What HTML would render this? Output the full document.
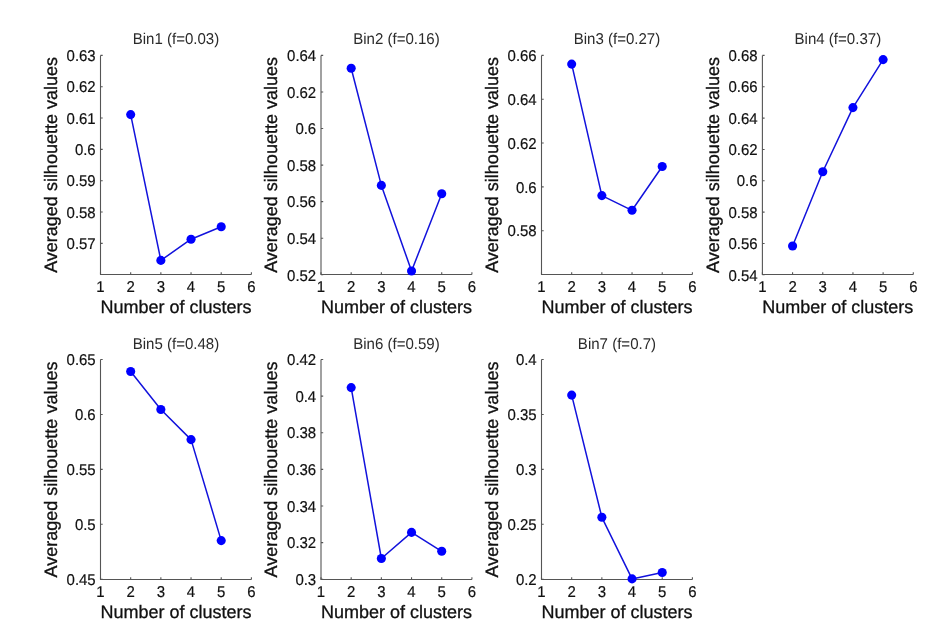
<!DOCTYPE html><html><head><meta charset="utf-8"><style>html,body{margin:0;padding:0;background:#fff;}svg{display:block;will-change:transform;}text{font-family:"Liberation Sans",Arial,sans-serif;text-rendering:geometricPrecision;}.tk{stroke:#111;stroke-width:0.2px;}.lb{stroke:#111;stroke-width:0.3px;}</style></head><body>
<svg width="948" height="642" viewBox="0 0 948 642">
<rect width="948" height="642" fill="#fff"/>
<g><path d="M100.5 55.4V274.5H251.4" fill="none" stroke="#555" stroke-width="1.1"/><path d="M100.5 274.5v-2.2M130.68 274.5v-2.2M160.86 274.5v-2.2M191.04 274.5v-2.2M221.22 274.5v-2.2M251.4 274.5v-2.2M100.5 55.4h2.2M100.5 86.73h2.2M100.5 118.06h2.2M100.5 149.39h2.2M100.5 180.72h2.2M100.5 212.05h2.2M100.5 243.38h2.2" fill="none" stroke="#555" stroke-width="1.1"/><text transform="translate(100.5 292.2) scale(0.96 1)" font-size="15.6" text-anchor="middle" fill="#111" class="tk">1</text><text transform="translate(130.68 292.2) scale(0.96 1)" font-size="15.6" text-anchor="middle" fill="#111" class="tk">2</text><text transform="translate(160.86 292.2) scale(0.96 1)" font-size="15.6" text-anchor="middle" fill="#111" class="tk">3</text><text transform="translate(191.04 292.2) scale(0.96 1)" font-size="15.6" text-anchor="middle" fill="#111" class="tk">4</text><text transform="translate(221.22 292.2) scale(0.96 1)" font-size="15.6" text-anchor="middle" fill="#111" class="tk">5</text><text transform="translate(251.4 292.2) scale(0.96 1)" font-size="15.6" text-anchor="middle" fill="#111" class="tk">6</text><text transform="translate(95.7 61.1) scale(0.96 1)" font-size="15.6" text-anchor="end" fill="#111" class="tk">0.63</text><text transform="translate(95.7 92.43) scale(0.96 1)" font-size="15.6" text-anchor="end" fill="#111" class="tk">0.62</text><text transform="translate(95.7 123.76) scale(0.96 1)" font-size="15.6" text-anchor="end" fill="#111" class="tk">0.61</text><text transform="translate(95.7 155.09) scale(0.96 1)" font-size="15.6" text-anchor="end" fill="#111" class="tk">0.6</text><text transform="translate(95.7 186.42) scale(0.96 1)" font-size="15.6" text-anchor="end" fill="#111" class="tk">0.59</text><text transform="translate(95.7 217.75) scale(0.96 1)" font-size="15.6" text-anchor="end" fill="#111" class="tk">0.58</text><text transform="translate(95.7 249.08) scale(0.96 1)" font-size="15.6" text-anchor="end" fill="#111" class="tk">0.57</text><text transform="translate(175.95 44.3) scale(0.965 1)" font-size="15.6" text-anchor="middle" fill="#2b2b2b" class="tt">Bin1 (f=0.03)</text><text x="175.95" y="312.8" font-size="18" text-anchor="middle" fill="#111" class="lb">Number of clusters</text><text x="56.7" y="164.95" font-size="18" text-anchor="middle" fill="#111" class="lb" transform="rotate(-90 56.7 164.95)">Averaged silhouette values</text><path d="M130.68 114.6 L160.86 260.4 L191.04 239.2 L221.22 226.8" fill="none" stroke="#1212dc" stroke-width="1.5" stroke-linejoin="round"/><circle cx="130.68" cy="114.6" r="4.55" fill="#0000ff"/><circle cx="160.86" cy="260.4" r="4.55" fill="#0000ff"/><circle cx="191.04" cy="239.2" r="4.55" fill="#0000ff"/><circle cx="221.22" cy="226.8" r="4.55" fill="#0000ff"/></g>
<g><path d="M321 55.4V274.5H471.9" fill="none" stroke="#555" stroke-width="1.1"/><path d="M321 274.5v-2.2M351.18 274.5v-2.2M381.36 274.5v-2.2M411.54 274.5v-2.2M441.72 274.5v-2.2M471.9 274.5v-2.2M321 55.4h2.2M321 91.97h2.2M321 128.53h2.2M321 165.1h2.2M321 201.67h2.2M321 238.23h2.2M321 274.8h2.2" fill="none" stroke="#555" stroke-width="1.1"/><text transform="translate(321 292.2) scale(0.96 1)" font-size="15.6" text-anchor="middle" fill="#111" class="tk">1</text><text transform="translate(351.18 292.2) scale(0.96 1)" font-size="15.6" text-anchor="middle" fill="#111" class="tk">2</text><text transform="translate(381.36 292.2) scale(0.96 1)" font-size="15.6" text-anchor="middle" fill="#111" class="tk">3</text><text transform="translate(411.54 292.2) scale(0.96 1)" font-size="15.6" text-anchor="middle" fill="#111" class="tk">4</text><text transform="translate(441.72 292.2) scale(0.96 1)" font-size="15.6" text-anchor="middle" fill="#111" class="tk">5</text><text transform="translate(471.9 292.2) scale(0.96 1)" font-size="15.6" text-anchor="middle" fill="#111" class="tk">6</text><text transform="translate(316.2 61.1) scale(0.96 1)" font-size="15.6" text-anchor="end" fill="#111" class="tk">0.64</text><text transform="translate(316.2 97.67) scale(0.96 1)" font-size="15.6" text-anchor="end" fill="#111" class="tk">0.62</text><text transform="translate(316.2 134.23) scale(0.96 1)" font-size="15.6" text-anchor="end" fill="#111" class="tk">0.6</text><text transform="translate(316.2 170.8) scale(0.96 1)" font-size="15.6" text-anchor="end" fill="#111" class="tk">0.58</text><text transform="translate(316.2 207.37) scale(0.96 1)" font-size="15.6" text-anchor="end" fill="#111" class="tk">0.56</text><text transform="translate(316.2 243.93) scale(0.96 1)" font-size="15.6" text-anchor="end" fill="#111" class="tk">0.54</text><text transform="translate(316.2 280.5) scale(0.96 1)" font-size="15.6" text-anchor="end" fill="#111" class="tk">0.52</text><text transform="translate(396.45 44.3) scale(0.965 1)" font-size="15.6" text-anchor="middle" fill="#2b2b2b" class="tt">Bin2 (f=0.16)</text><text x="396.45" y="312.8" font-size="18" text-anchor="middle" fill="#111" class="lb">Number of clusters</text><text x="277.2" y="164.95" font-size="18" text-anchor="middle" fill="#111" class="lb" transform="rotate(-90 277.2 164.95)">Averaged silhouette values</text><path d="M351.18 68.3 L381.36 185.4 L411.54 271 L441.72 193.8" fill="none" stroke="#1212dc" stroke-width="1.5" stroke-linejoin="round"/><circle cx="351.18" cy="68.3" r="4.55" fill="#0000ff"/><circle cx="381.36" cy="185.4" r="4.55" fill="#0000ff"/><circle cx="411.54" cy="271" r="4.55" fill="#0000ff"/><circle cx="441.72" cy="193.8" r="4.55" fill="#0000ff"/></g>
<g><path d="M541.5 55.4V274.5H692.4" fill="none" stroke="#555" stroke-width="1.1"/><path d="M541.5 274.5v-2.2M571.68 274.5v-2.2M601.86 274.5v-2.2M632.04 274.5v-2.2M662.22 274.5v-2.2M692.4 274.5v-2.2M541.5 55.4h2.2M541.5 99.23h2.2M541.5 143.06h2.2M541.5 186.89h2.2M541.5 230.72h2.2" fill="none" stroke="#555" stroke-width="1.1"/><text transform="translate(541.5 292.2) scale(0.96 1)" font-size="15.6" text-anchor="middle" fill="#111" class="tk">1</text><text transform="translate(571.68 292.2) scale(0.96 1)" font-size="15.6" text-anchor="middle" fill="#111" class="tk">2</text><text transform="translate(601.86 292.2) scale(0.96 1)" font-size="15.6" text-anchor="middle" fill="#111" class="tk">3</text><text transform="translate(632.04 292.2) scale(0.96 1)" font-size="15.6" text-anchor="middle" fill="#111" class="tk">4</text><text transform="translate(662.22 292.2) scale(0.96 1)" font-size="15.6" text-anchor="middle" fill="#111" class="tk">5</text><text transform="translate(692.4 292.2) scale(0.96 1)" font-size="15.6" text-anchor="middle" fill="#111" class="tk">6</text><text transform="translate(536.7 61.1) scale(0.96 1)" font-size="15.6" text-anchor="end" fill="#111" class="tk">0.66</text><text transform="translate(536.7 104.93) scale(0.96 1)" font-size="15.6" text-anchor="end" fill="#111" class="tk">0.64</text><text transform="translate(536.7 148.76) scale(0.96 1)" font-size="15.6" text-anchor="end" fill="#111" class="tk">0.62</text><text transform="translate(536.7 192.59) scale(0.96 1)" font-size="15.6" text-anchor="end" fill="#111" class="tk">0.6</text><text transform="translate(536.7 236.42) scale(0.96 1)" font-size="15.6" text-anchor="end" fill="#111" class="tk">0.58</text><text transform="translate(616.95 44.3) scale(0.965 1)" font-size="15.6" text-anchor="middle" fill="#2b2b2b" class="tt">Bin3 (f=0.27)</text><text x="616.95" y="312.8" font-size="18" text-anchor="middle" fill="#111" class="lb">Number of clusters</text><text x="497.7" y="164.95" font-size="18" text-anchor="middle" fill="#111" class="lb" transform="rotate(-90 497.7 164.95)">Averaged silhouette values</text><path d="M571.68 64.1 L601.86 195.6 L632.04 210.3 L662.22 166.5" fill="none" stroke="#1212dc" stroke-width="1.5" stroke-linejoin="round"/><circle cx="571.68" cy="64.1" r="4.55" fill="#0000ff"/><circle cx="601.86" cy="195.6" r="4.55" fill="#0000ff"/><circle cx="632.04" cy="210.3" r="4.55" fill="#0000ff"/><circle cx="662.22" cy="166.5" r="4.55" fill="#0000ff"/></g>
<g><path d="M762.4 55.4V274.5H913.3" fill="none" stroke="#555" stroke-width="1.1"/><path d="M762.4 274.5v-2.2M792.58 274.5v-2.2M822.76 274.5v-2.2M852.94 274.5v-2.2M883.12 274.5v-2.2M913.3 274.5v-2.2M762.4 55.4h2.2M762.4 86.74h2.2M762.4 118.09h2.2M762.4 149.43h2.2M762.4 180.77h2.2M762.4 212.11h2.2M762.4 243.46h2.2M762.4 274.8h2.2" fill="none" stroke="#555" stroke-width="1.1"/><text transform="translate(762.4 292.2) scale(0.96 1)" font-size="15.6" text-anchor="middle" fill="#111" class="tk">1</text><text transform="translate(792.58 292.2) scale(0.96 1)" font-size="15.6" text-anchor="middle" fill="#111" class="tk">2</text><text transform="translate(822.76 292.2) scale(0.96 1)" font-size="15.6" text-anchor="middle" fill="#111" class="tk">3</text><text transform="translate(852.94 292.2) scale(0.96 1)" font-size="15.6" text-anchor="middle" fill="#111" class="tk">4</text><text transform="translate(883.12 292.2) scale(0.96 1)" font-size="15.6" text-anchor="middle" fill="#111" class="tk">5</text><text transform="translate(913.3 292.2) scale(0.96 1)" font-size="15.6" text-anchor="middle" fill="#111" class="tk">6</text><text transform="translate(757.6 61.1) scale(0.96 1)" font-size="15.6" text-anchor="end" fill="#111" class="tk">0.68</text><text transform="translate(757.6 92.44) scale(0.96 1)" font-size="15.6" text-anchor="end" fill="#111" class="tk">0.66</text><text transform="translate(757.6 123.79) scale(0.96 1)" font-size="15.6" text-anchor="end" fill="#111" class="tk">0.64</text><text transform="translate(757.6 155.13) scale(0.96 1)" font-size="15.6" text-anchor="end" fill="#111" class="tk">0.62</text><text transform="translate(757.6 186.47) scale(0.96 1)" font-size="15.6" text-anchor="end" fill="#111" class="tk">0.6</text><text transform="translate(757.6 217.81) scale(0.96 1)" font-size="15.6" text-anchor="end" fill="#111" class="tk">0.58</text><text transform="translate(757.6 249.16) scale(0.96 1)" font-size="15.6" text-anchor="end" fill="#111" class="tk">0.56</text><text transform="translate(757.6 280.5) scale(0.96 1)" font-size="15.6" text-anchor="end" fill="#111" class="tk">0.54</text><text transform="translate(837.85 44.3) scale(0.965 1)" font-size="15.6" text-anchor="middle" fill="#2b2b2b" class="tt">Bin4 (f=0.37)</text><text x="837.85" y="312.8" font-size="18" text-anchor="middle" fill="#111" class="lb">Number of clusters</text><text x="718.6" y="164.95" font-size="18" text-anchor="middle" fill="#111" class="lb" transform="rotate(-90 718.6 164.95)">Averaged silhouette values</text><path d="M792.58 246 L822.76 171.7 L852.94 107.6 L883.12 59.6" fill="none" stroke="#1212dc" stroke-width="1.5" stroke-linejoin="round"/><circle cx="792.58" cy="246" r="4.55" fill="#0000ff"/><circle cx="822.76" cy="171.7" r="4.55" fill="#0000ff"/><circle cx="852.94" cy="107.6" r="4.55" fill="#0000ff"/><circle cx="883.12" cy="59.6" r="4.55" fill="#0000ff"/></g>
<g><path d="M100.5 359.5V579.5H251.4" fill="none" stroke="#555" stroke-width="1.1"/><path d="M100.5 579.5v-2.2M130.68 579.5v-2.2M160.86 579.5v-2.2M191.04 579.5v-2.2M221.22 579.5v-2.2M251.4 579.5v-2.2M100.5 359.5h2.2M100.5 414.43h2.2M100.5 469.35h2.2M100.5 524.27h2.2M100.5 579.2h2.2" fill="none" stroke="#555" stroke-width="1.1"/><text transform="translate(100.5 597.2) scale(0.96 1)" font-size="15.6" text-anchor="middle" fill="#111" class="tk">1</text><text transform="translate(130.68 597.2) scale(0.96 1)" font-size="15.6" text-anchor="middle" fill="#111" class="tk">2</text><text transform="translate(160.86 597.2) scale(0.96 1)" font-size="15.6" text-anchor="middle" fill="#111" class="tk">3</text><text transform="translate(191.04 597.2) scale(0.96 1)" font-size="15.6" text-anchor="middle" fill="#111" class="tk">4</text><text transform="translate(221.22 597.2) scale(0.96 1)" font-size="15.6" text-anchor="middle" fill="#111" class="tk">5</text><text transform="translate(251.4 597.2) scale(0.96 1)" font-size="15.6" text-anchor="middle" fill="#111" class="tk">6</text><text transform="translate(95.7 365.2) scale(0.96 1)" font-size="15.6" text-anchor="end" fill="#111" class="tk">0.65</text><text transform="translate(95.7 420.12) scale(0.96 1)" font-size="15.6" text-anchor="end" fill="#111" class="tk">0.6</text><text transform="translate(95.7 475.05) scale(0.96 1)" font-size="15.6" text-anchor="end" fill="#111" class="tk">0.55</text><text transform="translate(95.7 529.98) scale(0.96 1)" font-size="15.6" text-anchor="end" fill="#111" class="tk">0.5</text><text transform="translate(95.7 584.9) scale(0.96 1)" font-size="15.6" text-anchor="end" fill="#111" class="tk">0.45</text><text transform="translate(175.95 349.1) scale(0.965 1)" font-size="15.6" text-anchor="middle" fill="#2b2b2b" class="tt">Bin5 (f=0.48)</text><text x="175.95" y="617.8" font-size="18" text-anchor="middle" fill="#111" class="lb">Number of clusters</text><text x="56.7" y="469.5" font-size="18" text-anchor="middle" fill="#111" class="lb" transform="rotate(-90 56.7 469.5)">Averaged silhouette values</text><path d="M130.68 371.5 L160.86 409.5 L191.04 439.6 L221.22 540.6" fill="none" stroke="#1212dc" stroke-width="1.5" stroke-linejoin="round"/><circle cx="130.68" cy="371.5" r="4.55" fill="#0000ff"/><circle cx="160.86" cy="409.5" r="4.55" fill="#0000ff"/><circle cx="191.04" cy="439.6" r="4.55" fill="#0000ff"/><circle cx="221.22" cy="540.6" r="4.55" fill="#0000ff"/></g>
<g><path d="M321 359.5V579.5H471.9" fill="none" stroke="#555" stroke-width="1.1"/><path d="M321 579.5v-2.2M351.18 579.5v-2.2M381.36 579.5v-2.2M411.54 579.5v-2.2M441.72 579.5v-2.2M471.9 579.5v-2.2M321 359.5h2.2M321 396.12h2.2M321 432.73h2.2M321 469.35h2.2M321 505.97h2.2M321 542.58h2.2M321 579.2h2.2" fill="none" stroke="#555" stroke-width="1.1"/><text transform="translate(321 597.2) scale(0.96 1)" font-size="15.6" text-anchor="middle" fill="#111" class="tk">1</text><text transform="translate(351.18 597.2) scale(0.96 1)" font-size="15.6" text-anchor="middle" fill="#111" class="tk">2</text><text transform="translate(381.36 597.2) scale(0.96 1)" font-size="15.6" text-anchor="middle" fill="#111" class="tk">3</text><text transform="translate(411.54 597.2) scale(0.96 1)" font-size="15.6" text-anchor="middle" fill="#111" class="tk">4</text><text transform="translate(441.72 597.2) scale(0.96 1)" font-size="15.6" text-anchor="middle" fill="#111" class="tk">5</text><text transform="translate(471.9 597.2) scale(0.96 1)" font-size="15.6" text-anchor="middle" fill="#111" class="tk">6</text><text transform="translate(316.2 365.2) scale(0.96 1)" font-size="15.6" text-anchor="end" fill="#111" class="tk">0.42</text><text transform="translate(316.2 401.82) scale(0.96 1)" font-size="15.6" text-anchor="end" fill="#111" class="tk">0.4</text><text transform="translate(316.2 438.43) scale(0.96 1)" font-size="15.6" text-anchor="end" fill="#111" class="tk">0.38</text><text transform="translate(316.2 475.05) scale(0.96 1)" font-size="15.6" text-anchor="end" fill="#111" class="tk">0.36</text><text transform="translate(316.2 511.67) scale(0.96 1)" font-size="15.6" text-anchor="end" fill="#111" class="tk">0.34</text><text transform="translate(316.2 548.28) scale(0.96 1)" font-size="15.6" text-anchor="end" fill="#111" class="tk">0.32</text><text transform="translate(316.2 584.9) scale(0.96 1)" font-size="15.6" text-anchor="end" fill="#111" class="tk">0.3</text><text transform="translate(396.45 349.1) scale(0.965 1)" font-size="15.6" text-anchor="middle" fill="#2b2b2b" class="tt">Bin6 (f=0.59)</text><text x="396.45" y="617.8" font-size="18" text-anchor="middle" fill="#111" class="lb">Number of clusters</text><text x="277.2" y="469.5" font-size="18" text-anchor="middle" fill="#111" class="lb" transform="rotate(-90 277.2 469.5)">Averaged silhouette values</text><path d="M351.18 387.6 L381.36 558.5 L411.54 532.4 L441.72 551.3" fill="none" stroke="#1212dc" stroke-width="1.5" stroke-linejoin="round"/><circle cx="351.18" cy="387.6" r="4.55" fill="#0000ff"/><circle cx="381.36" cy="558.5" r="4.55" fill="#0000ff"/><circle cx="411.54" cy="532.4" r="4.55" fill="#0000ff"/><circle cx="441.72" cy="551.3" r="4.55" fill="#0000ff"/></g>
<g><path d="M541.5 359.5V579.5H692.4" fill="none" stroke="#555" stroke-width="1.1"/><path d="M541.5 579.5v-2.2M571.68 579.5v-2.2M601.86 579.5v-2.2M632.04 579.5v-2.2M662.22 579.5v-2.2M692.4 579.5v-2.2M541.5 359.5h2.2M541.5 414.43h2.2M541.5 469.35h2.2M541.5 524.27h2.2M541.5 579.2h2.2" fill="none" stroke="#555" stroke-width="1.1"/><text transform="translate(541.5 597.2) scale(0.96 1)" font-size="15.6" text-anchor="middle" fill="#111" class="tk">1</text><text transform="translate(571.68 597.2) scale(0.96 1)" font-size="15.6" text-anchor="middle" fill="#111" class="tk">2</text><text transform="translate(601.86 597.2) scale(0.96 1)" font-size="15.6" text-anchor="middle" fill="#111" class="tk">3</text><text transform="translate(632.04 597.2) scale(0.96 1)" font-size="15.6" text-anchor="middle" fill="#111" class="tk">4</text><text transform="translate(662.22 597.2) scale(0.96 1)" font-size="15.6" text-anchor="middle" fill="#111" class="tk">5</text><text transform="translate(692.4 597.2) scale(0.96 1)" font-size="15.6" text-anchor="middle" fill="#111" class="tk">6</text><text transform="translate(536.7 365.2) scale(0.96 1)" font-size="15.6" text-anchor="end" fill="#111" class="tk">0.4</text><text transform="translate(536.7 420.12) scale(0.96 1)" font-size="15.6" text-anchor="end" fill="#111" class="tk">0.35</text><text transform="translate(536.7 475.05) scale(0.96 1)" font-size="15.6" text-anchor="end" fill="#111" class="tk">0.3</text><text transform="translate(536.7 529.98) scale(0.96 1)" font-size="15.6" text-anchor="end" fill="#111" class="tk">0.25</text><text transform="translate(536.7 584.9) scale(0.96 1)" font-size="15.6" text-anchor="end" fill="#111" class="tk">0.2</text><text transform="translate(616.95 349.1) scale(0.965 1)" font-size="15.6" text-anchor="middle" fill="#2b2b2b" class="tt">Bin7 (f=0.7)</text><text x="616.95" y="617.8" font-size="18" text-anchor="middle" fill="#111" class="lb">Number of clusters</text><text x="497.7" y="469.5" font-size="18" text-anchor="middle" fill="#111" class="lb" transform="rotate(-90 497.7 469.5)">Averaged silhouette values</text><path d="M571.68 395.1 L601.86 517.3 L632.04 578.9 L662.22 572.5" fill="none" stroke="#1212dc" stroke-width="1.5" stroke-linejoin="round"/><circle cx="571.68" cy="395.1" r="4.55" fill="#0000ff"/><circle cx="601.86" cy="517.3" r="4.55" fill="#0000ff"/><circle cx="632.04" cy="578.9" r="4.55" fill="#0000ff"/><circle cx="662.22" cy="572.5" r="4.55" fill="#0000ff"/></g>
</svg></body></html>
